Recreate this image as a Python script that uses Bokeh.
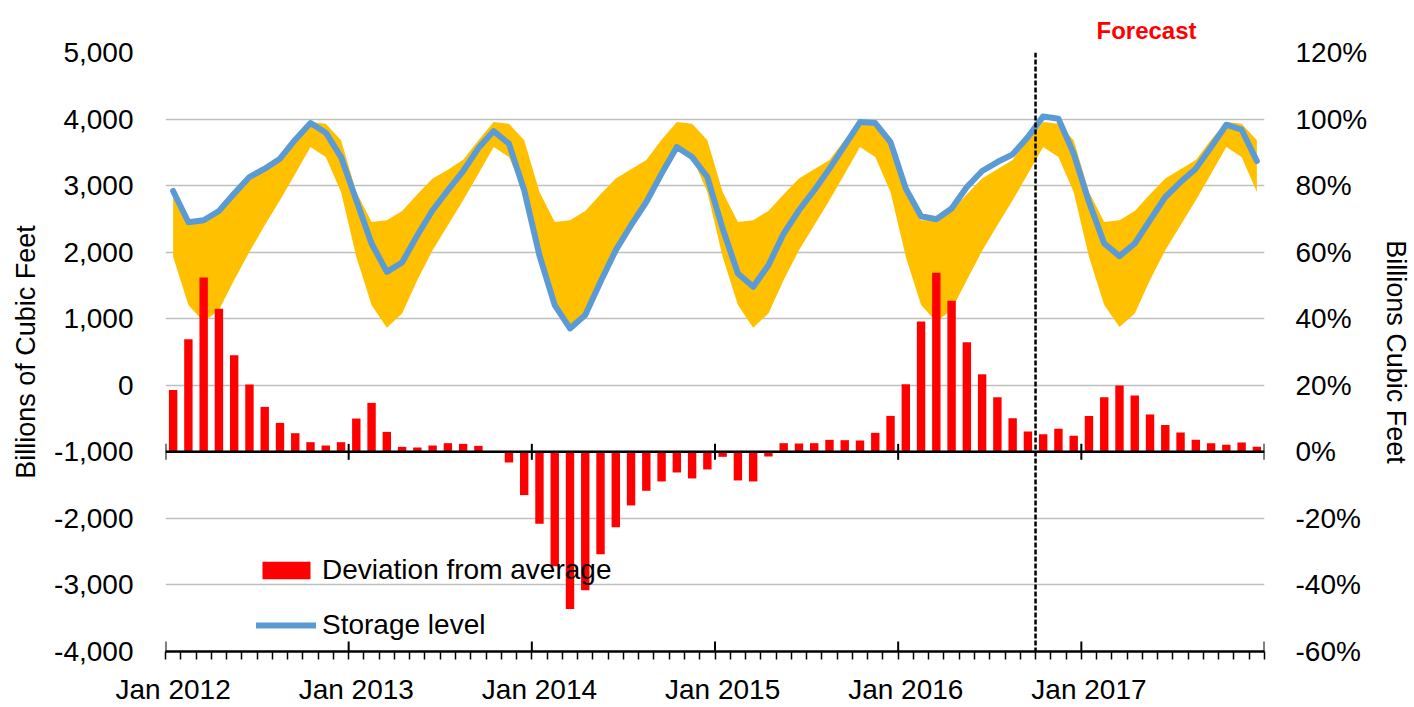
from bokeh.plotting import figure
from bokeh.models import (Range1d, LinearAxis, FixedTicker, NumeralTickFormatter,
                          Span, Title, Legend, LegendItem)
from bokeh.embed import file_html
from bokeh.resources import INLINE

# ---------------- data ----------------
years = [2012, 2013, 2014, 2015, 2016, 2017]
x_tick_labels = ["Jan 2012", "Jan 2013", "Jan 2014", "Jan 2015", "Jan 2016", "Jan 2017"]

# storage level, billions of cubic feet (monthly, Jan 2012 .. Dec 2017)
storage = [
    2919, 2450, 2480, 2619, 2880, 3129, 3255, 3405, 3690, 3940, 3795, 3429,
    2780, 2130, 1704, 1845, 2255, 2630, 2930, 3219, 3564, 3819, 3630, 2930,
    1950, 1205, 855, 1055, 1554, 2030, 2405, 2754, 3180, 3580, 3429, 3129,
    2355, 1680, 1479, 1804, 2280, 2630, 2930, 3255, 3604, 3954, 3940, 3654,
    2955, 2540, 2494, 2655, 2979, 3219, 3354, 3470, 3729, 4040, 4005, 3480,
    2754, 2130, 1940, 2130, 2480, 2829, 3054, 3255, 3580, 3915, 3840, 3369,
]

# five-year range (upper / lower), billions of cubic feet
band_upper = [
    2905, 2455, 2480, 2620, 2870, 3110, 3255, 3380, 3705, 3955, 3930, 3680,
    2905, 2455, 2480, 2620, 2870, 3105, 3240, 3390, 3680, 3955, 3930, 3680,
    2905, 2455, 2480, 2620, 2870, 3105, 3245, 3385, 3690, 3955, 3930, 3680,
    2905, 2455, 2480, 2620, 2870, 3105, 3245, 3385, 3690, 3955, 3930, 3680,
    2905, 2480, 2480, 2620, 2870, 3105, 3245, 3385, 3690, 3955, 3930, 3680,
    2905, 2455, 2480, 2620, 2870, 3105, 3245, 3385, 3690, 3955, 3930, 3680,
]
band_lower = [
    1930, 1205, 955, 1130, 1580, 2005, 2405, 2780, 3180, 3580, 3430, 2905,
    1930, 1205, 865, 1080, 1580, 2030, 2405, 2780, 3180, 3580, 3430, 2905,
    1930, 1205, 865, 1080, 1580, 2030, 2405, 2780, 3180, 3580, 3430, 2905,
    1930, 1205, 865, 1080, 1580, 2030, 2405, 2780, 3180, 3580, 3430, 2905,
    1930, 1205, 955, 1130, 1580, 2020, 2405, 2780, 3180, 3580, 3430, 2905,
    1930, 1205, 875, 1080, 1580, 2030, 2405, 2780, 3180, 3580, 3430, 2905,
]

# deviation from average, percent (right axis)
deviation = [
    18.6, 33.8, 52.4, 43.0, 29.0, 20.2, 13.5, 8.7, 5.6, 2.9, 1.9, 2.9,
    10.0, 14.7, 6.0, 1.5, 1.3, 1.9, 2.6, 2.4, 1.8, 0.0, -3.2, -13.0,
    -21.6, -34.4, -47.2, -41.6, -30.8, -22.7, -16.1, -11.7, -8.9, -6.2, -8.0, -5.3,
    -1.5, -8.6, -8.9, -1.4, 2.6, 2.5, 2.6, 3.6, 3.5, 3.4, 5.7, 10.8,
    20.3, 39.2, 53.8, 45.4, 32.9, 23.3, 16.4, 10.1, 6.1, 5.3, 6.9, 4.8,
    10.8, 16.4, 19.9, 16.9, 11.2, 8.1, 5.8, 3.6, 2.6, 2.1, 2.8, 1.5,
]

left_ticks = [-4000, -3000, -2000, -1000, 0, 1000, 2000, 3000, 4000, 5000]
right_ticks = [-60, -40, -20, 0, 20, 40, 60, 80, 100, 120]
right_tick_labels = ["-60%", "-40%", "-20%", "0%", "20%", "40%", "60%", "80%", "100%", "120%"]
forecast_start = 57          # month index where the forecast begins (Oct 2016)
forecast_label = "Forecast"

# ---------------- figure ----------------
FONT = "Liberation Sans"
n = len(storage)
xc = [i + 0.5 for i in range(n)]
year_edges = [12 * k for k in range(len(years) + 1)]
label_pos = [12 * k + 0.5 for k in range(len(years))]

p = figure(width=1414, height=707, output_backend="svg", toolbar_location=None,
           x_range=Range1d(0, n), y_range=Range1d(left_ticks[0], left_ticks[-1]),
           min_border_left=165, min_border_right=147, min_border_top=52,
           min_border_bottom=55)
p.extra_y_ranges = {"pct": Range1d(right_ticks[0], right_ticks[-1])}
p.outline_line_color = None
p.background_fill_color = "white"

# "Forecast" heading above the plot area
p.title = Title(text=forecast_label, align="left", offset=931, standoff=14,
                vertical_align="top",
                text_color="#FF0000", text_font=FONT, text_font_size="24px",
                text_font_style="bold")

# grid
p.xgrid.visible = False
p.ygrid.ticker = FixedTicker(ticks=left_ticks)
p.ygrid.grid_line_color = "#bfbfbf"
p.ygrid.grid_line_width = 1.5


def style_y(ax, standoff, title_standoff, title):
    ax.axis_line_color = None
    ax.major_tick_line_color = None
    ax.minor_tick_line_color = None
    ax.major_tick_in = 0
    ax.major_tick_out = 0
    ax.minor_tick_in = 0
    ax.minor_tick_out = 0
    ax.major_label_standoff = standoff
    ax.major_label_text_font = FONT
    ax.major_label_text_font_size = "28px"
    ax.major_label_text_color = "black"
    ax.axis_label = title
    ax.axis_label_text_font = FONT
    ax.axis_label_text_font_size = "27px"
    ax.axis_label_text_font_style = "normal"
    ax.axis_label_text_color = "black"
    ax.axis_label_standoff = title_standoff


# left axis
ya = p.yaxis[0]
ya.ticker = FixedTicker(ticks=left_ticks)
ya.formatter = NumeralTickFormatter(format="0,0")
style_y(ya, 32, 10, "Billions of Cubic Feet")

# right axis
ra = LinearAxis(y_range_name="pct", ticker=FixedTicker(ticks=right_ticks),
                major_label_overrides=dict(zip(right_ticks, right_tick_labels)))
style_y(ra, 31, 11, "Billions Cubic Feet")
p.add_layout(ra, "right")

# bottom axis
xa = p.xaxis[0]
xa.ticker = FixedTicker(ticks=label_pos, minor_ticks=list(range(n + 1)))
xa.major_label_overrides = dict(zip(label_pos, x_tick_labels))
xa.axis_line_color = "black"
xa.axis_line_width = 2.5
xa.major_tick_in = 0
xa.major_tick_out = 0
xa.minor_tick_in = 0
xa.minor_tick_out = 8
xa.minor_tick_line_color = "black"
xa.minor_tick_line_width = 1.5
xa.major_label_standoff = 14
xa.major_label_text_font = FONT
xa.major_label_text_font_size = "28px"
xa.major_label_text_color = "black"

# ---------------- glyphs ----------------
p.varea(x=xc, y1=band_lower, y2=band_upper, fill_color="#FFC000")
bars = p.vbar(x=xc, top=deviation, bottom=0, width=0.55, fill_color="#FF0000",
              line_color=None, y_range_name="pct")
line = p.line(x=xc, y=storage, line_color="#5B9BD5", line_width=6,
              line_join="round", line_cap="round")

# horizontal zero-percent axis with year ticks
p.add_layout(Span(location=0, dimension="width", y_range_name="pct",
                  line_color="black", line_width=2.5))
px_per_unit = 600.0 / (left_ticks[-1] - left_ticks[0])
mid = -1000
p.segment(x0=year_edges, x1=year_edges, y0=[mid - 8 / px_per_unit] * len(year_edges),
          y1=[mid + 8 / px_per_unit] * len(year_edges), line_color="black", line_width=2)
p.segment(x0=year_edges, x1=year_edges, y0=[left_ticks[0]] * len(year_edges),
          y1=[left_ticks[0] + 10 / px_per_unit] * len(year_edges), line_color="black",
          line_width=2)

# forecast divider
p.add_layout(Span(location=forecast_start, dimension="height", line_color="black",
                  line_width=2.5, line_dash="5 2"))

legend = Legend(items=[LegendItem(label="Deviation from average", renderers=[bars]),
                       LegendItem(label="Storage level", renderers=[line])],
                location=(91, 10), orientation="vertical",
                glyph_width=60, glyph_height=22, label_height=31, spacing=23,
                label_standoff=6, padding=0, margin=0, border_line_color=None,
                background_fill_alpha=0, label_text_font=FONT,
                label_text_font_size="28px", label_text_color="black")
p.add_layout(legend)

open("out.html", "w").write(file_html(p, INLINE))
